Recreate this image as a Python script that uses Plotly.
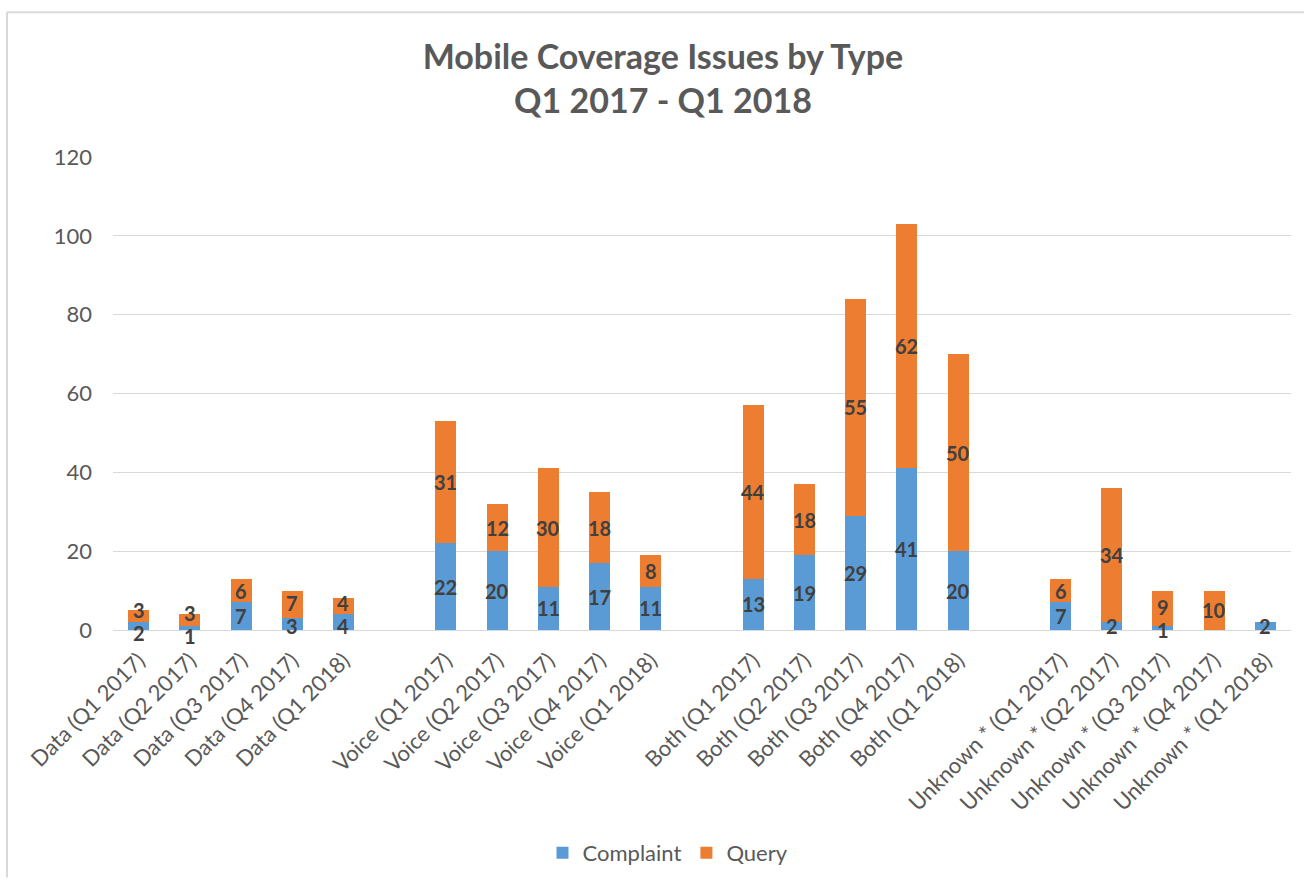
import plotly.graph_objects as go

# Issue types and quarters
issue_types = ["Data", "Voice", "Both", "Unknown *"]
quarters = ["Q1 2017", "Q2 2017", "Q3 2017", "Q4 2017", "Q1 2018"]

# Counts per issue type, one value per quarter
complaint = {
    "Data": [2, 1, 7, 3, 4],
    "Voice": [22, 20, 11, 17, 11],
    "Both": [13, 19, 29, 41, 20],
    "Unknown *": [7, 2, 1, 0, 2],
}
query = {
    "Data": [3, 3, 6, 7, 4],
    "Voice": [31, 12, 30, 18, 8],
    "Both": [44, 18, 55, 62, 50],
    "Unknown *": [6, 34, 9, 10, 0],
}

y_ticks = [0, 20, 40, 60, 80, 100, 120]

BLUE = "#5B9BD5"
ORANGE = "#ED7D31"
LABEL = "#404040"
GREY = "#595959"
BORDER = "#d9d9d9"
FONT = "Lato, Calibri, Arial, sans-serif"

W, H = 1306, 884
L, R, T, B = 113, 15, 157, 253
PW, PH = W - L - R, H - T - B
Y_MAX = 120
PX_PER_UNIT = PH / Y_MAX

# Lay the groups out on a numeric axis with one empty slot between groups
xs, tick_text, comp, qry = [], [], [], []
for g, t in enumerate(issue_types):
    for i, q in enumerate(quarters):
        xs.append(g * (len(quarters) + 1) + i)
        tick_text.append(f"{t} ({q})")
        comp.append(complaint[t][i])
        qry.append(query[t][i])

fig = go.Figure()
fig.add_bar(x=xs, y=comp, name="Complaint", marker=dict(color=BLUE, line=dict(width=0)),
            width=0.41, hoverinfo="skip")
fig.add_bar(x=xs, y=qry, name="Query", marker=dict(color=ORANGE, line=dict(width=0)),
            width=0.41, hoverinfo="skip")

# Value labels centred in each stacked segment; zero segments carry no label.
# When the two labels of a bar sit too close, shift them apart (in pixels).
MIN_SEP = 5.8
annotations = []
for x, c, q in zip(xs, comp, qry):
    yc, yq = c / 2, c + q / 2
    sc = sq = 0.0
    if c and q and (yq - yc) < MIN_SEP:
        push = (MIN_SEP - (yq - yc)) / 2
        sc, sq = -push * PX_PER_UNIT, push * PX_PER_UNIT
    for val, yv, shift in ((c, yc, sc), (q, yq, sq)):
        if val:
            annotations.append(dict(
                x=x, y=yv, xref="x", yref="y", text=f"<b>{val}</b>", showarrow=False,
                yshift=shift, xanchor="center", yanchor="middle",
                font=dict(family=FONT, size=20, color=LABEL),
            ))

last = xs[-1]
fig.update_layout(
    width=W, height=H,
    barmode="stack",
    paper_bgcolor="white", plot_bgcolor="white",
    margin=dict(l=L, r=R, t=T, b=B),
    font=dict(family=FONT, color=GREY, size=22),
    title=dict(
        text="<b>Mobile Coverage Issues by Type<br>Q1 2017 - Q1 2018</b>",
        xref="container", x=663 / W, xanchor="center",
        yref="container", y=1 - 69 / H, yanchor="top",
        font=dict(family=FONT, size=34, color=GREY),
    ),
    xaxis=dict(
        range=[-0.5, last + 0.5], tickmode="array", tickvals=xs, ticktext=tick_text,
        tickangle=-45, showgrid=False, showline=True, linecolor=BORDER, linewidth=1,
        ticks="", zeroline=False, ticklabelstandoff=8, tickfont=dict(size=22, color=GREY),
    ),
    yaxis=dict(
        range=[0, Y_MAX], tickmode="array", tickvals=y_ticks,
        showgrid=True, gridcolor=BORDER, gridwidth=1, zeroline=False, showline=False,
        ticks="", ticklabelstandoff=20, tickfont=dict(size=22, color=GREY),
    ),
    legend=dict(
        orientation="h", x=(668 - L) / PW, xanchor="center",
        y=-(853 - (H - B)) / PH, yanchor="middle",
        font=dict(size=22, color=GREY), traceorder="normal",
    ),
    annotations=annotations,
    shapes=[
        # outer chart frame: left and top edges
        dict(type="line", xref="paper", yref="paper",
             x0=-(L - 7) / PW, x1=-(L - 7) / PW, y0=-(B - 5) / PH, y1=(H - B - 12) / PH,
             line=dict(color=BORDER, width=2), layer="above"),
        dict(type="line", xref="paper", yref="paper",
             x0=-(L - 7) / PW, x1=(W - 2 - L) / PW, y0=(H - B - 12) / PH, y1=(H - B - 12) / PH,
             line=dict(color=BORDER, width=2), layer="above"),
    ],
)

fig.write_html("out.html")
